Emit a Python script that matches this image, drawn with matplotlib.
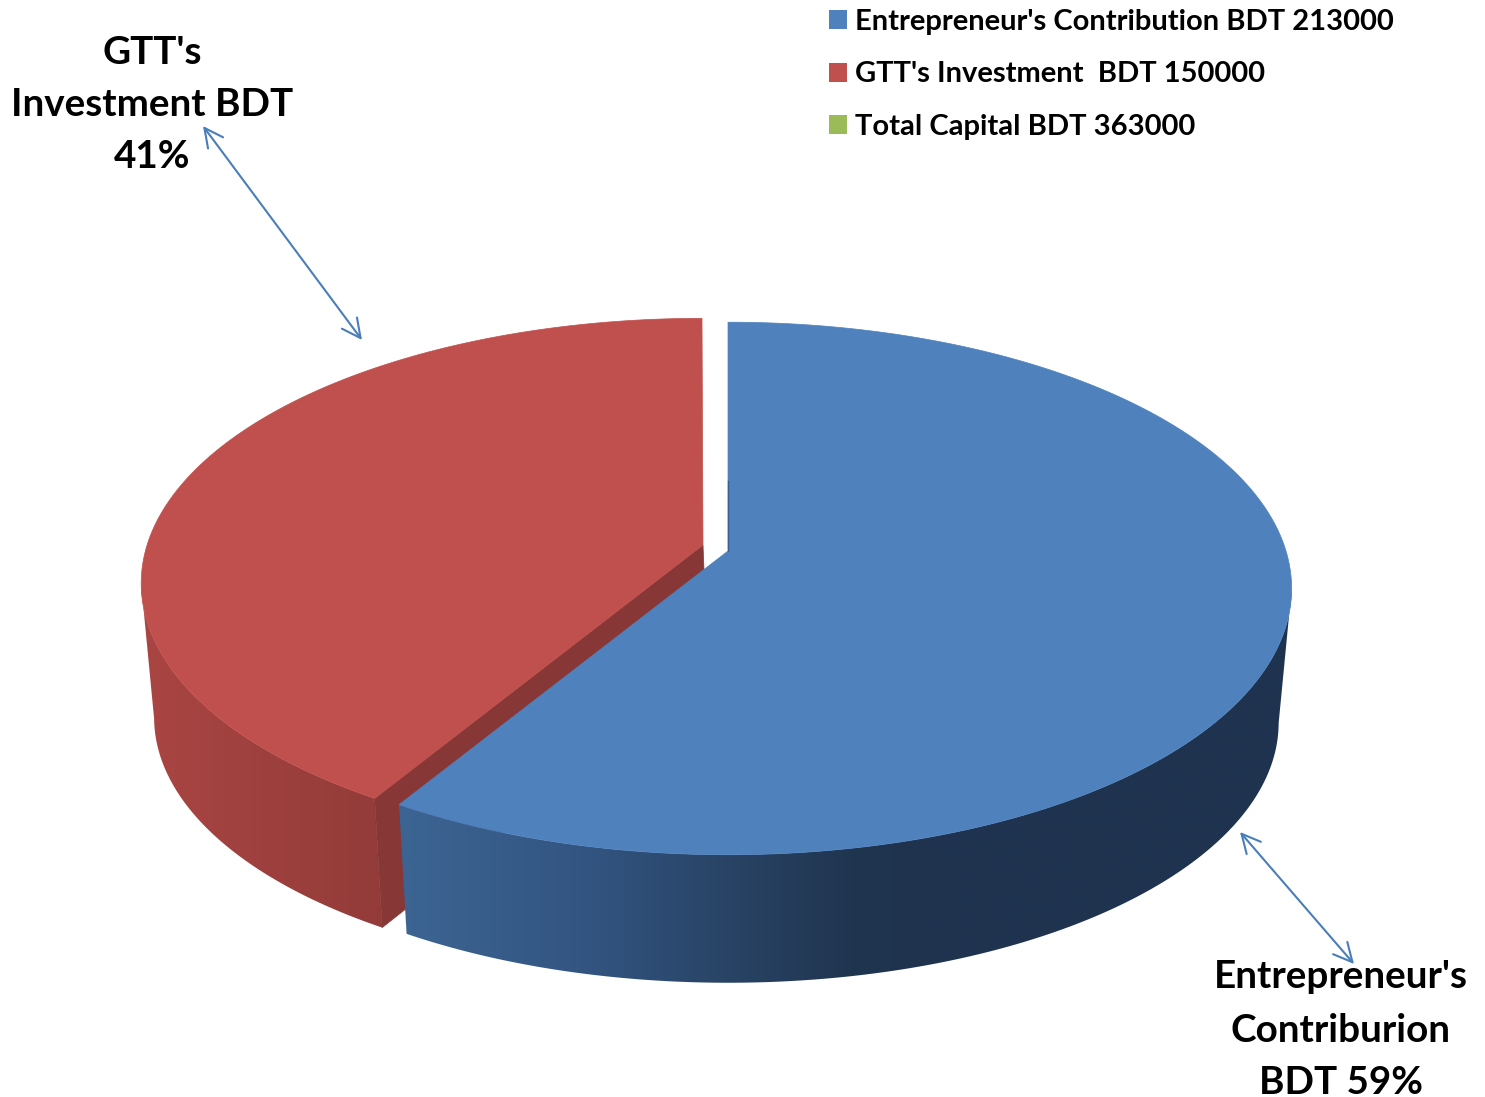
import numpy as np
import matplotlib
matplotlib.use("Agg")
import matplotlib.pyplot as plt
from matplotlib.colors import LinearSegmentedColormap
from matplotlib.patches import Patch, Polygon

# Data
legend_labels = ["Entrepreneur's Contribution BDT 213000",
                 "GTT's Investment  BDT 150000",
                 "Total Capital BDT 363000"]
legend_colors = ["#4F81BD", "#C0504D", "#9BBB59"]
slice_values = [213000, 150000]
gtt_label = ["GTT's", "Investment BDT", "41%"]
ent_label = ["Entrepreneur's", "Contriburion", "BDT 59%"]

# Projection of the pie (pixels)
CX, CY, A, B, K = 728, 551, 558, 261, 0.1407
S, D = 0.977, 135
RED_SHIFT = (-26, -5)
RED_SCALE = 0.995
FONT = "Lato"


def top(theta, shift=(0, 0), scale=1.0):
    u, v = np.sin(theta), np.cos(theta)
    w = 1 + K * v
    return np.column_stack((CX + scale * A * u / w + shift[0], CY - scale * B * v / w + shift[1]))


def bottom(theta, shift=(0, 0), scale=1.0):
    p = top(theta, scale=scale)
    return np.column_stack((CX + S * (p[:, 0] - CX) + shift[0],
                            CY + S * (p[:, 1] - CY) + D + shift[1]))


fig = plt.figure(figsize=(14.85, 10.97), dpi=100, facecolor="white")
ax = fig.add_axes([0, 0, 1, 1])
ax.axis("off")

split = 2 * np.pi * slice_values[0] / sum(slice_values)
blue_t = np.linspace(0, split, 700)
red_t = np.linspace(split, 2 * np.pi, 500)
# Angle at which the projected rim reaches its widest point
widest = np.arccos(-K)

blue_cmap = LinearSegmentedColormap.from_list(
    "b", [(0, "#3C6492"), (0.35, "#325480"), (0.6, "#294466"), (0.85, "#203550"), (1, "#1F334F")])
red_cmap = LinearSegmentedColormap.from_list("r", [(0, "#A94543"), (1, "#933C39")])


def side(theta, cmap, x0, x1, zorder, shift=(0, 0), scale=1.0):
    """Side wall: a horizontal colour ramp clipped to the wall's outline."""
    t, b = top(theta, shift, scale), bottom(theta, shift, scale)
    outline = np.vstack((t, b[::-1]))
    left, right = outline[:, 0].min() - 2, outline[:, 0].max() + 2
    xs = np.linspace(left, right, 1024)
    ramp = np.clip((xs - x0) / (x1 - x0), 0, 1).reshape(1, -1)
    im = ax.imshow(ramp, cmap=cmap, vmin=0, vmax=1, extent=(left, right, 1097, 0), aspect="auto",
                   zorder=zorder, interpolation="bilinear")
    im.set_clip_path(Polygon(outline, closed=True, transform=ax.transData))


# Red wedge
red_side = red_t[red_t <= 2 * np.pi - widest]
side(red_side, red_cmap, 150, 375, 1, RED_SHIFT, RED_SCALE)
rt0 = top(np.array([split]), RED_SHIFT, RED_SCALE)[0]
rb0 = bottom(np.array([split]), RED_SHIFT, RED_SCALE)[0]
apex_r = (CX + RED_SHIFT[0] + 1, CY + RED_SHIFT[1] - 1)
ax.fill([apex_r[0], rt0[0], rb0[0], apex_r[0] + 5], [apex_r[1], rt0[1], rb0[1], apex_r[1] + 125],
        color="#873735", lw=0.5, zorder=2)
pts = top(red_t, RED_SHIFT, RED_SCALE)
ax.fill(np.r_[apex_r[0], pts[:, 0]], np.r_[apex_r[1], pts[:, 1]], color=legend_colors[1], lw=0.5, zorder=3)

# Blue wedge
blue_side = blue_t[blue_t >= widest]
side(blue_side, blue_cmap, 410, 930, 3.5)
pts = top(blue_t)
ax.fill(np.r_[CX, pts[:, 0]], np.r_[CY, pts[:, 1]], color=legend_colors[0], lw=0.5, zorder=4)
ax.plot([CX, CX], [CY - 70, CY], color="#2B4A70", lw=1.0, alpha=0.6, zorder=5)

ax.set_xlim(0, 1485)
ax.set_ylim(1097, 0)

# Labels
for text, y in zip(gtt_label, (53, 105, 157)):
    ax.text(152, y, text, ha="center", va="center", family=FONT, weight="bold",
            fontsize=27.8, color="black", zorder=6)
for text, y in zip(ent_label, (977, 1030, 1082)):
    ax.text(1341, y, text, ha="center", va="center", family=FONT, weight="bold",
            fontsize=27.8, color="black", zorder=6)

# Arrows
style = dict(arrowstyle="<->,head_length=0.9,head_width=0.45", color="#4A7EBB", lw=1.5,
             shrinkA=0, shrinkB=0, mutation_scale=15, zorder=6)
ax.annotate("", xy=(203, 126), xytext=(362, 340), arrowprops=style)
ax.annotate("", xy=(1240, 832), xytext=(1354, 964), arrowprops=style)

# Legend
handles = [Patch(facecolor=c, edgecolor="none") for c in legend_colors]
ax.legend(handles, legend_labels, loc="upper left", bbox_to_anchor=(829, 9), bbox_transform=ax.transData,
          frameon=False, borderpad=0, borderaxespad=0, handlelength=0.62, handleheight=0.62,
          handletextpad=0.27, labelspacing=0.904,
          prop=dict(family=FONT, weight="bold", size=21))

fig.savefig("out.png", dpi=100, facecolor="white")
